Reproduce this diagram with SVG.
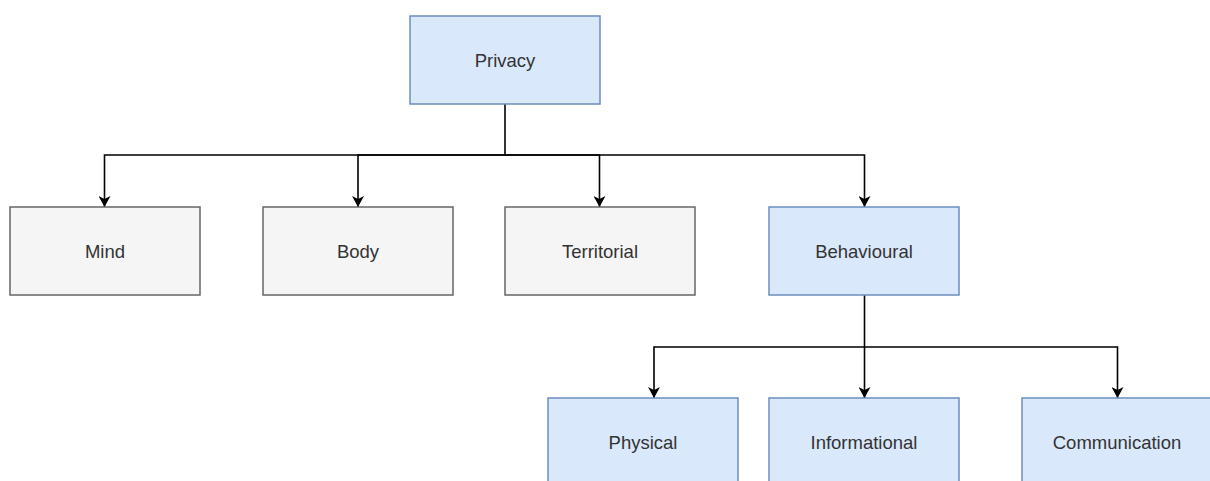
<svg xmlns="http://www.w3.org/2000/svg" width="1210" height="481" viewBox="0 0 1210 481">
<style>
.blue{fill:#dae8fc;stroke:#6c8ebf;stroke-width:1.5}
.gray{fill:#f5f5f5;stroke:#666666;stroke-width:1.5}
text{font-family:"Liberation Sans",Arial,sans-serif;font-size:18.5px;fill:#333333;text-anchor:middle}
.edge{fill:none;stroke:#000;stroke-width:1.6}
</style>
<defs>
<marker id="arr" viewBox="0 0 11 12" refX="11" refY="6" markerWidth="11" markerHeight="12" markerUnits="userSpaceOnUse" orient="auto">
<path d="M0,0 L11,6 L0,12 L3,6 Z" fill="#000"/>
</marker>
</defs>
<rect width="1210" height="481" fill="#ffffff"/>
<g id="connectors">
<path class="edge" d="M505,104 V155 H104.5 V207" marker-end="url(#arr)"/>
<path class="edge" d="M505,155 H358 V207" marker-end="url(#arr)"/>
<path class="edge" d="M505,155 H599.5 V207" marker-end="url(#arr)"/>
<path class="edge" d="M505,155 H864.5 V207" marker-end="url(#arr)"/>
<path class="edge" d="M864.5,295 V347 H654 V398" marker-end="url(#arr)"/>
<path class="edge" d="M864.5,347 V398" marker-end="url(#arr)"/>
<path class="edge" d="M864.5,347 H1117.5 V398" marker-end="url(#arr)"/>
</g>
<g id="privacy"><rect class="blue" x="410" y="16" width="190" height="88"/><text x="505" y="66.5">Privacy</text></g>
<g id="mind"><rect class="gray" x="10" y="207" width="190" height="88"/><text x="105" y="257.5">Mind</text></g>
<g id="body"><rect class="gray" x="263" y="207" width="190" height="88"/><text x="358" y="257.5">Body</text></g>
<g id="territorial"><rect class="gray" x="505" y="207" width="190" height="88"/><text x="600" y="257.5">Territorial</text></g>
<g id="behavioural"><rect class="blue" x="769" y="207" width="190" height="88"/><text x="864" y="257.5">Behavioural</text></g>
<g id="physical"><rect class="blue" x="548" y="398" width="190" height="88"/><text x="643" y="448.5">Physical</text></g>
<g id="informational"><rect class="blue" x="769" y="398" width="190" height="88"/><text x="864" y="448.5">Informational</text></g>
<g id="communication"><rect class="blue" x="1022" y="398" width="190" height="88"/><text x="1117" y="448.5">Communication</text></g>
</svg>
